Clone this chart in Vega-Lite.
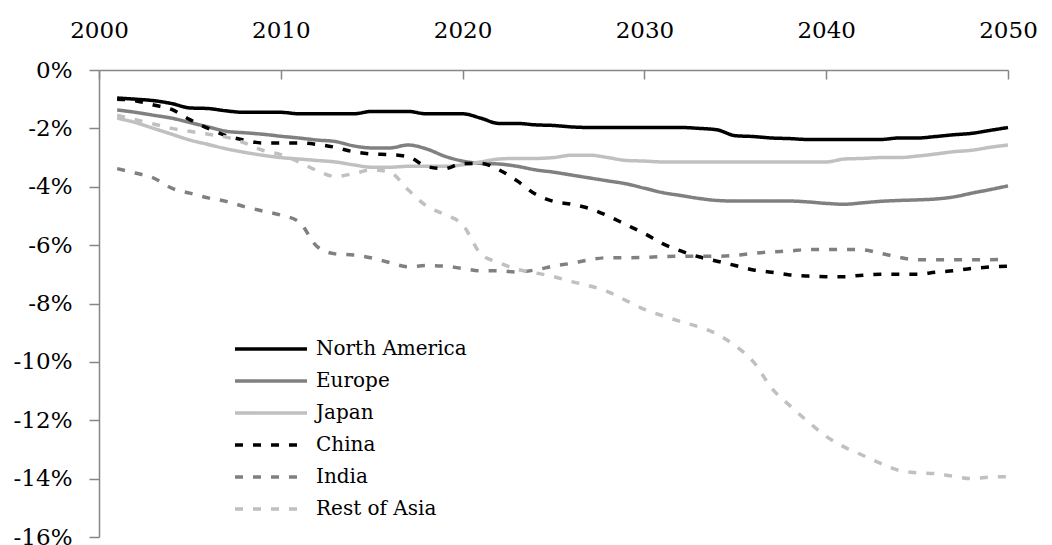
{
  "$schema": "https://vega.github.io/schema/vega-lite/v6.json",
  "width": 909,
  "height": 467,
  "autosize": {"type": "none"},
  "padding": {"left": 99, "top": 70, "right": 44, "bottom": 8},
  "background": "white",
  "config": {"view": {"stroke": null}, "font": "DejaVu Serif"},
  "data": {
    "values": [
      {"year": 2001, "North America": -0.96, "Europe": -1.37, "Japan": -1.65, "China": -1.0, "India": -3.38, "Rest of Asia": -1.55},
      {"year": 2002, "North America": -1.0, "Europe": -1.45, "Japan": -1.8, "China": -1.05, "India": -3.53, "Rest of Asia": -1.7},
      {"year": 2003, "North America": -1.05, "Europe": -1.55, "Japan": -2.0, "China": -1.2, "India": -3.7, "Rest of Asia": -1.85},
      {"year": 2004, "North America": -1.15, "Europe": -1.65, "Japan": -2.2, "China": -1.35, "India": -4.05, "Rest of Asia": -2.0},
      {"year": 2005, "North America": -1.3, "Europe": -1.8, "Japan": -2.4, "China": -1.7, "India": -4.22, "Rest of Asia": -2.1},
      {"year": 2006, "North America": -1.32, "Europe": -1.95, "Japan": -2.55, "China": -2.0, "India": -4.38, "Rest of Asia": -2.2},
      {"year": 2007, "North America": -1.4, "Europe": -2.1, "Japan": -2.7, "China": -2.25, "India": -4.5, "Rest of Asia": -2.3},
      {"year": 2008, "North America": -1.45, "Europe": -2.15, "Japan": -2.82, "China": -2.4, "India": -4.68, "Rest of Asia": -2.5},
      {"year": 2009, "North America": -1.45, "Europe": -2.2, "Japan": -2.92, "China": -2.5, "India": -4.83, "Rest of Asia": -2.75},
      {"year": 2010, "North America": -1.45, "Europe": -2.27, "Japan": -3.0, "China": -2.5, "India": -4.97, "Rest of Asia": -2.9},
      {"year": 2011, "North America": -1.5, "Europe": -2.33, "Japan": -3.05, "China": -2.5, "India": -5.2, "Rest of Asia": -3.15},
      {"year": 2012, "North America": -1.5, "Europe": -2.4, "Japan": -3.1, "China": -2.55, "India": -6.05, "Rest of Asia": -3.45},
      {"year": 2013, "North America": -1.5, "Europe": -2.45, "Japan": -3.15, "China": -2.65, "India": -6.3, "Rest of Asia": -3.65},
      {"year": 2014, "North America": -1.5, "Europe": -2.6, "Japan": -3.25, "China": -2.8, "India": -6.34, "Rest of Asia": -3.55},
      {"year": 2015, "North America": -1.42, "Europe": -2.67, "Japan": -3.33, "China": -2.88, "India": -6.44, "Rest of Asia": -3.42},
      {"year": 2016, "North America": -1.42, "Europe": -2.67, "Japan": -3.33, "China": -2.9, "India": -6.6, "Rest of Asia": -3.5},
      {"year": 2017, "North America": -1.42, "Europe": -2.57, "Japan": -3.3, "China": -2.97, "India": -6.74, "Rest of Asia": -4.1},
      {"year": 2018, "North America": -1.5, "Europe": -2.7, "Japan": -3.3, "China": -3.3, "India": -6.7, "Rest of Asia": -4.65},
      {"year": 2019, "North America": -1.5, "Europe": -2.95, "Japan": -3.3, "China": -3.38, "India": -6.72, "Rest of Asia": -4.95},
      {"year": 2020, "North America": -1.5, "Europe": -3.12, "Japan": -3.25, "China": -3.2, "India": -6.8, "Rest of Asia": -5.3},
      {"year": 2021, "North America": -1.65, "Europe": -3.2, "Japan": -3.15, "China": -3.2, "India": -6.88, "Rest of Asia": -6.3},
      {"year": 2022, "North America": -1.83, "Europe": -3.22, "Japan": -3.05, "China": -3.42, "India": -6.88, "Rest of Asia": -6.6},
      {"year": 2023, "North America": -1.83, "Europe": -3.3, "Japan": -3.03, "China": -3.8, "India": -6.92, "Rest of Asia": -6.83},
      {"year": 2024, "North America": -1.88, "Europe": -3.42, "Japan": -3.03, "China": -4.25, "India": -6.85, "Rest of Asia": -6.95},
      {"year": 2025, "North America": -1.9, "Europe": -3.5, "Japan": -3.0, "China": -4.5, "India": -6.72, "Rest of Asia": -7.08},
      {"year": 2026, "North America": -1.95, "Europe": -3.6, "Japan": -2.92, "China": -4.6, "India": -6.62, "Rest of Asia": -7.25},
      {"year": 2027, "North America": -1.97, "Europe": -3.7, "Japan": -2.92, "China": -4.75, "India": -6.5, "Rest of Asia": -7.4},
      {"year": 2028, "North America": -1.97, "Europe": -3.8, "Japan": -3.0, "China": -5.0, "India": -6.43, "Rest of Asia": -7.6},
      {"year": 2029, "North America": -1.97, "Europe": -3.9, "Japan": -3.1, "China": -5.3, "India": -6.43, "Rest of Asia": -7.9},
      {"year": 2030, "North America": -1.97, "Europe": -4.05, "Japan": -3.12, "China": -5.6, "India": -6.42, "Rest of Asia": -8.2},
      {"year": 2031, "North America": -1.97, "Europe": -4.2, "Japan": -3.15, "China": -5.95, "India": -6.39, "Rest of Asia": -8.42},
      {"year": 2032, "North America": -1.97, "Europe": -4.3, "Japan": -3.15, "China": -6.2, "India": -6.38, "Rest of Asia": -8.62},
      {"year": 2033, "North America": -2.0, "Europe": -4.4, "Japan": -3.15, "China": -6.4, "India": -6.38, "Rest of Asia": -8.8},
      {"year": 2034, "North America": -2.05, "Europe": -4.47, "Japan": -3.15, "China": -6.55, "India": -6.38, "Rest of Asia": -9.05},
      {"year": 2035, "North America": -2.25, "Europe": -4.49, "Japan": -3.15, "China": -6.7, "India": -6.35, "Rest of Asia": -9.45},
      {"year": 2036, "North America": -2.28, "Europe": -4.49, "Japan": -3.15, "China": -6.85, "India": -6.28, "Rest of Asia": -10.0},
      {"year": 2037, "North America": -2.33, "Europe": -4.49, "Japan": -3.15, "China": -6.93, "India": -6.23, "Rest of Asia": -10.9},
      {"year": 2038, "North America": -2.35, "Europe": -4.49, "Japan": -3.15, "China": -7.02, "India": -6.2, "Rest of Asia": -11.5},
      {"year": 2039, "North America": -2.38, "Europe": -4.52, "Japan": -3.15, "China": -7.06, "India": -6.15, "Rest of Asia": -12.05},
      {"year": 2040, "North America": -2.38, "Europe": -4.57, "Japan": -3.15, "China": -7.08, "India": -6.15, "Rest of Asia": -12.55},
      {"year": 2041, "North America": -2.38, "Europe": -4.6, "Japan": -3.05, "China": -7.08, "India": -6.15, "Rest of Asia": -12.92},
      {"year": 2042, "North America": -2.38, "Europe": -4.55, "Japan": -3.03, "China": -7.03, "India": -6.16, "Rest of Asia": -13.2},
      {"year": 2043, "North America": -2.38, "Europe": -4.5, "Japan": -3.0, "China": -7.0, "India": -6.28, "Rest of Asia": -13.48},
      {"year": 2044, "North America": -2.33, "Europe": -4.47, "Japan": -3.0, "China": -7.0, "India": -6.42, "Rest of Asia": -13.72},
      {"year": 2045, "North America": -2.33, "Europe": -4.45, "Japan": -2.95, "China": -7.0, "India": -6.5, "Rest of Asia": -13.8},
      {"year": 2046, "North America": -2.28, "Europe": -4.42, "Japan": -2.88, "China": -6.93, "India": -6.5, "Rest of Asia": -13.83},
      {"year": 2047, "North America": -2.22, "Europe": -4.35, "Japan": -2.8, "China": -6.88, "India": -6.5, "Rest of Asia": -13.92},
      {"year": 2048, "North America": -2.17, "Europe": -4.22, "Japan": -2.75, "China": -6.8, "India": -6.5, "Rest of Asia": -14.0},
      {"year": 2049, "North America": -2.07, "Europe": -4.1, "Japan": -2.65, "China": -6.75, "India": -6.5, "Rest of Asia": -13.95},
      {"year": 2050, "North America": -1.97, "Europe": -3.97, "Japan": -2.57, "China": -6.72, "India": -6.48, "Rest of Asia": -13.93}
    ]
  },
  "transform": [
    {"fold": ["North America", "Europe", "Japan", "China", "India", "Rest of Asia"], "as": ["region", "value"]}
  ],
  "mark": {"type": "line", "strokeWidth": 3.5, "interpolate": "monotone"},
  "encoding": {
    "x": {
      "field": "year",
      "type": "quantitative",
      "scale": {"domain": [2000, 2050], "nice": false, "zero": false},
      "axis": {
        "orient": "top",
        "values": [2000, 2010, 2020, 2030, 2040, 2050],
        "format": "d",
        "title": null,
        "grid": false,
        "tickSize": -9,
        "labelPadding": 37,
        "labelFontSize": 23,
        "labelFont": "DejaVu Serif",
        "labelColor": "#000000",
        "labelFlush": false,
        "labelOverlap": false,
        "domainColor": "#868686",
        "tickColor": "#868686",
        "domainWidth": 1.5,
        "tickWidth": 1.5
      }
    },
    "y": {
      "field": "value",
      "type": "quantitative",
      "scale": {"domain": [-16, 0], "nice": false},
      "axis": {
        "values": [0, -2, -4, -6, -8, -10, -12, -14, -16],
        "labelExpr": "datum.value + '%'",
        "title": null,
        "grid": false,
        "tickSize": 10,
        "labelPadding": 17,
        "labelFontSize": 23,
        "labelFont": "DejaVu Serif",
        "labelColor": "#000000",
        "labelFlush": false,
        "labelOverlap": false,
        "domainColor": "#868686",
        "tickColor": "#868686",
        "domainWidth": 1.5,
        "tickWidth": 1.5
      }
    },
    "color": {
      "field": "region",
      "type": "nominal",
      "scale": {
        "domain": ["North America", "Europe", "Japan", "China", "India", "Rest of Asia"],
        "range": ["#000000", "#808080", "#c0c0c0", "#000000", "#808080", "#c0c0c0"]
      },
      "legend": {
        "orient": "none",
        "legendX": 161,
        "legendY": 268,
        "title": null,
        "symbolType": "M-4,0H4",
        "symbolSize": 324,
        "symbolStrokeWidth": 3.5,
        "labelFontSize": 20,
        "labelFont": "DejaVu Serif",
        "labelColor": "#000000",
        "labelOffset": 34,
        "rowPadding": 11,
        "padding": 0
      }
    },
    "strokeDash": {
      "field": "region",
      "type": "nominal",
      "scale": {
        "domain": ["North America", "Europe", "Japan", "China", "India", "Rest of Asia"],
        "range": [[1, 0], [1, 0], [1, 0], [8, 10], [8, 10], [8, 10]]
      },
      "legend": {
        "orient": "none",
        "legendX": 161,
        "legendY": 268,
        "title": null,
        "symbolType": "M-4,0H4",
        "symbolSize": 324,
        "symbolStrokeWidth": 3.5,
        "labelFontSize": 20,
        "labelFont": "DejaVu Serif",
        "labelColor": "#000000",
        "labelOffset": 34,
        "rowPadding": 11,
        "padding": 0
      }
    }
  }
}
